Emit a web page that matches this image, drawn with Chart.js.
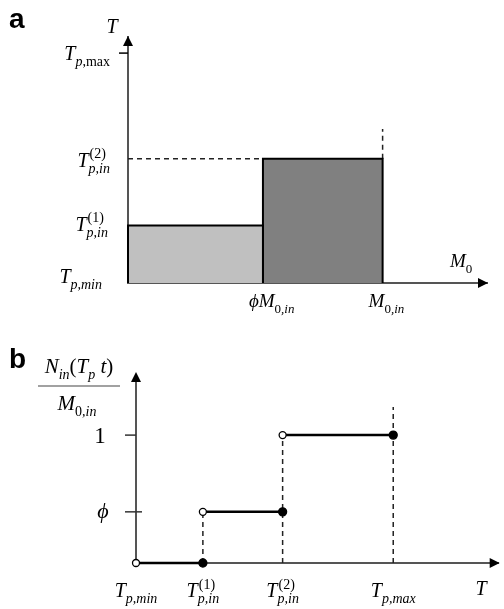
<!DOCTYPE html>
<html><head><meta charset="utf-8">
<script src="https://cdn.jsdelivr.net/npm/chart.js@4"></script>
<style>
html,body{margin:0;padding:0;background:#fff;}
body{width:504px;height:609px;position:relative;overflow:hidden;}
#wa{position:absolute;left:0;top:0;width:504px;height:320px;}
#wb{position:absolute;left:0;top:320px;width:504px;height:289px;}
</style></head>
<body>
<div id="wa"><canvas id="ca"></canvas></div>
<div id="wb"><canvas id="cb"></canvas></div>
<script>
// ---------- Panel a data (x: mass in units of M0,in ; y: T with Tmin=0, Tmax=1) ----------
const aMassEdges = [0, 0.53, 1.0];          // 0, phi*M0,in, M0,in
const aLevels = [0.25, 0.54];               // T_p,in^(1), T_p,in^(2)
const aYTickValues = [0, 0.25, 0.54, 1.0];  // Tmin, T1, T2, Tmax
const aXTickValues = [0.53, 1.0];           // phi*M0,in, M0,in
const aGuideTop = 0.67;                     // top of dashed guide at M0,in
const aAxisMax = {x: 1.41, y: 1.07};

// ---------- Panel b data (x: T with Tmin=0, Tmax=1 ; y: N_in / M0,in) ----------
const bTempTicks = [0, 0.26, 0.57, 1.0];    // Tmin, T1, T2, Tmax
const bFractions = [0, 0.40, 1.0];          // 0, phi, 1
const bYTickValues = [1.0, 0.40];
const bGuideTop = 1.22;                     // top of dashed guide at Tmax
const bAxisMax = {x: 1.41, y: 1.47};

// ---------- Text labels (rich text: [position, text, italic]) ----------
const PHI = '\u03D5';
const aYTickLabels = [
  [['b','T',1],['sub','p,min',1]],
  [['b','T',1],['sup','(1)',0],['sub','p,in',1]],
  [['b','T',1],['sup','(2)',0],['sub','p,in',1]],
  [['b','T',1],['sub','p',1],['sub',',max',0]]
];
const aXTickLabels = [
  [['b',PHI + 'M',1],['sub','0',0],['sub',',in',1]],
  [['b','M',1],['sub','0',0],['sub',',in',1]]
];
const aYTitle = [['b','T',1]];
const aXTitle = [['b','M',1],['sub','0',0]];
const bXTickLabels = [
  [['b','T',1],['sub','p,min',1]],
  [['b','T',1],['sup','(1)',0],['sub','p,in',1]],
  [['b','T',1],['sup','(2)',0],['sub','p,in',1]],
  [['b','T',1],['sub','p,max',1]]
];
const bYTickLabels = [[['b','1',0]], [['b',PHI,1]]];
const bXTitle = [['b','T',1]];
const bYTitleNum = [['b','N',1],['sub','in',1],['b','(',0],['b','T',1],['sub','p',1],['b',' t',1],['b',')',0]];
const bYTitleDen = [['b','M',1],['sub','0',0],['sub',',in',1]];

// ---------- helpers ----------
const SERIF = '"Liberation Serif","DejaVu Serif",serif';
function fnt(size, it){ return (it ? 'italic ' : '') + size + 'px ' + SERIF; }
function renderRich(ctx, segs, x0, y, size, draw){
  const ss = Math.round(size * 0.68);
  let x = x0, supEnd = x0;
  for (const [pos, text, it] of segs){
    if (pos === 'b'){
      x = Math.max(x, supEnd);
      ctx.font = fnt(size, it);
      if (draw) ctx.fillText(text, x, y);
      x += ctx.measureText(text).width;
    } else if (pos === 'sup'){
      x = Math.max(x, supEnd);
      ctx.font = fnt(ss, it);
      if (draw) ctx.fillText(text, x + 1, y - size * 0.42);
      supEnd = x + 1 + ctx.measureText(text).width;
    } else {
      ctx.font = fnt(ss, it);
      if (draw) ctx.fillText(text, x, y + size * 0.3);
      x += ctx.measureText(text).width;
    }
  }
  return Math.max(x, supEnd) - x0;
}
function drawRich(ctx, segs, x, y, size, align){
  ctx.save();
  ctx.textBaseline = 'alphabetic'; ctx.textAlign = 'left'; ctx.fillStyle = '#000';
  const w = renderRich(ctx, segs, 0, 0, size, false);
  const sx = align === 'right' ? x - w : (align === 'center' ? x - w / 2 : x);
  renderRich(ctx, segs, sx, y, size, true);
  ctx.restore();
}
function arrow(ctx, tx, ty, dir){
  ctx.save(); ctx.fillStyle = '#000'; ctx.beginPath();
  if (dir === 'up'){ ctx.moveTo(tx, ty); ctx.lineTo(tx - 5, ty + 10); ctx.lineTo(tx + 5, ty + 10); }
  else { ctx.moveTo(tx, ty); ctx.lineTo(tx - 10, ty - 5); ctx.lineTo(tx - 10, ty + 5); }
  ctx.closePath(); ctx.fill(); ctx.restore();
}
function seg(ctx, x1, y1, x2, y2, w, c){
  ctx.save(); ctx.strokeStyle = c; ctx.lineWidth = w; ctx.beginPath();
  ctx.moveTo(x1, y1); ctx.lineTo(x2, y2); ctx.stroke(); ctx.restore();
}
function letter(ctx, t, x, y){
  ctx.save(); ctx.font = 'bold 28px "Liberation Sans",Arial,sans-serif';
  ctx.fillStyle = '#000'; ctx.textBaseline = 'alphabetic'; ctx.fillText(t, x, y); ctx.restore();
}
function axes(maxX, maxY){
  return {
    x: {type:'linear', min:0, max:maxX, grid:{display:false, drawTicks:false},
        border:{display:true, color:'#555', width:2}, ticks:{display:false},
        afterFit(s){ s.height = 0; }},
    y: {type:'linear', min:0, max:maxY, grid:{display:false, drawTicks:false},
        border:{display:true, color:'#555', width:2}, ticks:{display:false},
        afterFit(s){ s.width = 0; }}
  };
}
const common = {
  responsive:true, maintainAspectRatio:false, animation:false,
  plugins:{legend:{display:false}, tooltip:{enabled:false}},
  elements:{line:{tension:0}}
};
const dashed = {borderColor:'#222', borderWidth:1.5, borderDash:[5,4], pointRadius:0, fill:false, clip:false, showLine:true};

// ---------- Panel a ----------
const [m0, mPhi, m1] = aMassEdges;
const [t1, t2] = aLevels;
new Chart(document.getElementById('ca'), {
  type:'scatter',
  data:{datasets:[
    {data:[{x:m0,y:0},{x:m0,y:t1},{x:mPhi,y:t1},{x:mPhi,y:0}], showLine:true, fill:'origin',
     backgroundColor:'#c0c0c0', borderColor:'#000', borderWidth:2, pointRadius:0, clip:false},
    {data:[{x:mPhi,y:0},{x:mPhi,y:t2},{x:m1,y:t2},{x:m1,y:0}], showLine:true, fill:'origin',
     backgroundColor:'#808080', borderColor:'#000', borderWidth:2, pointRadius:0, clip:false},
    Object.assign({data:[{x:m0,y:t2},{x:mPhi,y:t2}]}, dashed),
    Object.assign({data:[{x:m1,y:t2},{x:m1,y:aGuideTop}]}, dashed)
  ]},
  options:Object.assign({}, common, {
    layout:{padding:{left:128, top:37, right:17, bottom:37}},
    scales:axes(aAxisMax.x, aAxisMax.y)
  }),
  plugins:[{id:'decoA', afterDraw(chart){
    const ctx = chart.ctx, xs = chart.scales.x, ys = chart.scales.y, a = chart.chartArea;
    arrow(ctx, a.left, a.top - 1, 'up');
    arrow(ctx, a.right + 1, a.bottom, 'right');
    const yMaxPx = ys.getPixelForValue(aYTickValues[3]);
    seg(ctx, a.left - 9, yMaxPx, a.left, yMaxPx, 1.5, '#000');
    const yAdj = [[102, 0], [108, 5], [110, 8], [110, 7]];
    aYTickValues.forEach((v, i) => drawRich(ctx, aYTickLabels[i], yAdj[i][0], ys.getPixelForValue(v) + yAdj[i][1], 20, 'right'));
    aXTickValues.forEach((v, i) => drawRich(ctx, aXTickLabels[i], xs.getPixelForValue(v) - 14, a.bottom + 24, 19, 'left'));
    drawRich(ctx, aYTitle, 112, 33, 20, 'center');
    drawRich(ctx, aXTitle, 450, 267, 19, 'left');
    letter(ctx, 'a', 9, 28);
  }}]
});

// ---------- Panel b ----------
const [T0, T1, T2, Tm] = bTempTicks;
const [f0, fPhi, f1] = bFractions;
const stepStyle = {showLine:true, borderColor:'#000', borderWidth:2.5, fill:false, clip:false,
  pointRadius:[3.5, 4], pointBackgroundColor:['#fff', '#000'], pointBorderColor:'#000', pointBorderWidth:1.3};
new Chart(document.getElementById('cb'), {
  type:'scatter',
  data:{datasets:[
    Object.assign({data:[{x:T0,y:f0},{x:T1,y:f0}]}, stepStyle),
    Object.assign({data:[{x:T1,y:fPhi},{x:T2,y:fPhi}]}, stepStyle),
    Object.assign({data:[{x:T2,y:f1},{x:Tm,y:f1}]}, stepStyle),
    Object.assign({data:[{x:T1,y:f0},{x:T1,y:fPhi}]}, dashed),
    Object.assign({data:[{x:T2,y:f0},{x:T2,y:f1}]}, dashed),
    Object.assign({data:[{x:Tm,y:f0},{x:Tm,y:bGuideTop}]}, dashed)
  ]},
  options:Object.assign({}, common, {
    layout:{padding:{left:136, top:55, right:1, bottom:46}},
    scales:axes(bAxisMax.x, bAxisMax.y)
  }),
  plugins:[{id:'decoB', afterDraw(chart){
    const ctx = chart.ctx, xs = chart.scales.x, ys = chart.scales.y, a = chart.chartArea;
    arrow(ctx, a.left, a.top - 3, 'up');
    arrow(ctx, a.right + 1, a.bottom, 'right');
    const y1 = ys.getPixelForValue(bYTickValues[0]), yp = ys.getPixelForValue(bYTickValues[1]);
    seg(ctx, a.left - 11, y1, a.left, y1, 1.5, '#333');
    seg(ctx, a.left - 11, yp, a.left + 6, yp, 1.5, '#333');
    drawRich(ctx, bYTickLabels[0], 100, y1 + 8, 23, 'center');
    drawRich(ctx, bYTickLabels[1], 103, yp + 6, 22, 'center');
    bTempTicks.forEach((v, i) => drawRich(ctx, bXTickLabels[i], xs.getPixelForValue(v), a.bottom + 34, 20, 'center'));
    drawRich(ctx, bXTitle, 481, 275, 20, 'center');
    drawRich(ctx, bYTitleNum, 79, 53, 21, 'center');
    seg(ctx, 38, 66, 120, 66, 1.2, '#444');
    drawRich(ctx, bYTitleDen, 77, 90, 21, 'center');
    letter(ctx, 'b', 9, 48);
  }}]
});
</script>
</body></html>
